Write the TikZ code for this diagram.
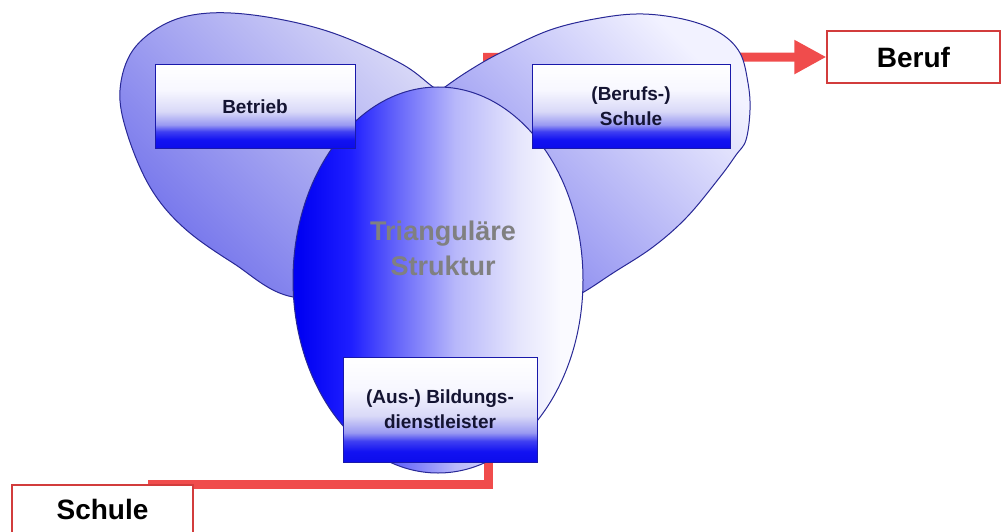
\documentclass[tikz,border=0pt]{standalone}
\usepackage{fontspec}
\setmainfont{Liberation Sans}
\usetikzlibrary{arrows.meta,shapes.geometric}
\definecolor{redline}{RGB}{240,76,76}
\definecolor{redborder}{RGB}{210,60,60}
\definecolor{edgeblue}{RGB}{40,40,150}
\definecolor{boxedge}{RGB}{25,25,170}
\definecolor{boxtext}{RGB}{20,20,50}
\definecolor{coretext}{RGB}{128,128,128}
\pgfdeclareverticalshading{boxsh}{100bp}{rgb(0bp)=(0.05,0.05,0.92); rgb(25bp)=(0.05,0.05,0.92); rgb(30bp)=(0.07,0.07,0.95); rgb(35bp)=(0.25,0.25,0.95); rgb(39bp)=(0.6,0.6,0.95); rgb(47bp)=(0.85,0.85,0.97); rgb(60bp)=(0.97,0.97,1); rgb(75bp)=(1,1,1); rgb(100bp)=(1,1,1)}
\pgfdeclarehorizontalshading{coresh}{100bp}{rgb(0bp)=(0,0,0.95); rgb(26bp)=(0,0,0.95); rgb(35bp)=(0.12,0.12,1); rgb(43bp)=(0.4,0.4,0.98); rgb(53bp)=(0.72,0.72,0.98); rgb(64bp)=(0.9,0.9,0.99); rgb(71bp)=(0.98,0.98,1); rgb(100bp)=(1,1,1)}
\pgfdeclarehorizontalshading{leafLsh}{100bp}{rgb(0bp)=(0.42,0.42,0.92); rgb(25bp)=(0.42,0.42,0.92); rgb(75bp)=(0.86,0.86,0.97); rgb(100bp)=(0.86,0.86,0.97)}
\pgfdeclarehorizontalshading{leafRsh}{100bp}{rgb(0bp)=(0.48,0.48,0.93); rgb(25bp)=(0.48,0.48,0.93); rgb(75bp)=(0.95,0.95,1); rgb(100bp)=(0.95,0.95,1)}
\pgfdeclarelayer{back}
\pgfdeclarelayer{mid}
\pgfsetlayers{back,mid,main}
\tikzset{
  bluebox/.style={rectangle, shading=boxsh, draw=boxedge, line width=1pt, minimum height=83pt, align=center, text=boxtext, font=\fontsize{19}{25}\selectfont\bfseries, inner sep=0pt},
  redbox/.style={rectangle, fill=white, draw=redborder, line width=1.2pt, font=\fontsize{28}{32}\selectfont\bfseries, inner sep=0pt},
  leaf/.style={draw=edgeblue, line width=1pt},
  link/.style={draw=redline, line width=9pt},
}
\begin{document}
\begin{tikzpicture}[x=1pt,y=-1pt]
\useasboundingbox (0,0) rectangle (1006,532);
\clip (0,0) rectangle (1006,532);

% boxes (main layer)
\node[bluebox, minimum width=200pt] (betrieb) at (255,106.5) {Betrieb};
\node[bluebox, minimum width=198pt] (bschule) at (631,106.5) {(Berufs-)\\Schule};
\node[bluebox, minimum width=194pt, minimum height=105pt] (bild) at (440,409.5) {(Aus-) Bildungs-\\dienstleister};
\node[redbox, minimum width=173pt, minimum height=52pt] (beruf) at (913.5,57) {Beruf};
\node[redbox, minimum width=181pt, minimum height=49pt] (schule) at (102.5,509.5) {Schule};

\begin{pgfonlayer}{mid}
  % left leaf
  \path[leaf, shading=leafLsh, shading angle=45]
    plot[smooth cycle, tension=0.6] coordinates {(460,107) (433,87) (400,63) (333,33) (267,17) (210,13) (167,23) (133,50) (120,90) (127,133) (150,187) (183,227) (233,263) (293,297) (380,290)};
  % right leaf
  \path[leaf, shading=leafRsh, shading angle=45]
    plot[smooth cycle, tension=0.6] coordinates {(415,110) (445,87) (470,70) (500,53) (550,30) (600,18) (643,14) (687,20) (720,33) (740,53) (748,83) (750,110) (746,140) (736,155) (720,177) (687,217) (653,247) (613,273) (582,293) (555,305) (470,230)};
  % central oval
  \node[ellipse, shading=coresh, draw=edgeblue, line width=1pt, minimum width=290pt, minimum height=386pt, inner sep=0pt] (core) at (438,280) {};
  \node[font=\fontsize{27}{35}\selectfont\bfseries, text=coretext, align=center] (tri) at (443,248) {Triangul\"are\\Struktur};
\end{pgfonlayer}

\begin{pgfonlayer}{back}
  \coordinate (aStart) at (483,57.5);
  \draw[link, -{Triangle[length=32pt,width=32pt]}] (aStart) -- (beruf.west);
  \coordinate (sEnd) at (148,484.5);
  \draw[link] ([xshift=48pt]bild.south) |- (sEnd);
\end{pgfonlayer}
\end{tikzpicture}
\end{document}
